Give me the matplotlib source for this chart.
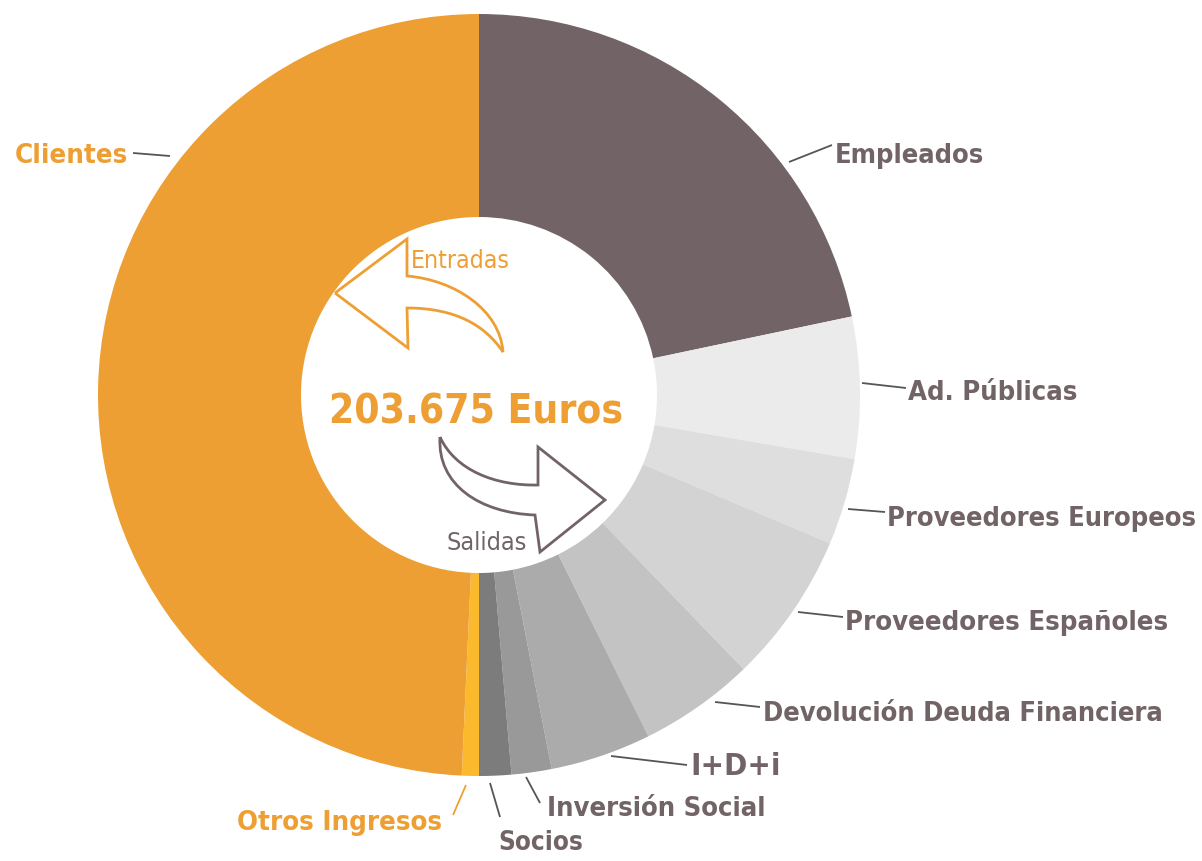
import matplotlib.pyplot as plt
from matplotlib.path import Path
from matplotlib.patches import PathPatch

# flujo de caja en euros: la mitad derecha son salidas, la izquierda entradas
salidas = ['Empleados', 'Ad. Públicas', 'Proveedores Europeos', 'Proveedores Españoles',
           'Devolución Deuda Financiera', 'I+D+i', 'Inversión Social', 'Socios']
salidas_eur = [88375, 24440, 14940, 26140, 19910, 17430, 6900, 5540]
entradas = ['Otros Ingresos', 'Clientes']
entradas_eur = [2940, 200735]
total_txt = '203.675 Euros'

GRIS = '#726466'
NARANJA = '#ee9f33'
col_salidas = [GRIS, '#ebebeb', '#dedede', '#d3d3d3', '#c3c3c3', '#ababab', '#999999', '#7c7c7c']
col_entradas = ['#fbba2e', NARANJA]

FAM = ['Liberation Sans Narrow', 'DejaVu Sans']
W, H = 1202, 861


def P(x, y):
    # pixel (origen arriba-izq) -> datos
    return (x, H - y)


fig = plt.figure(figsize=(W / 100, H / 100), dpi=100)
ax = fig.add_axes([0, 0, 1, 1])

vals = salidas_eur + entradas_eur
cols = col_salidas + col_entradas
R = 381
ax.pie(vals, colors=cols, startangle=90, counterclock=False, radius=R,
       center=P(479, 395), wedgeprops=dict(width=R - 178, edgecolor='none', linewidth=0))

ax.set_xlim(0, W)
ax.set_ylim(0, H)
ax.set_aspect('auto')
ax.axis('off')

# etiquetas: (inicio linea, fin linea, posicion texto, alineacion, ancho en px)
etiquetas = {
    'Clientes': ((170, 156), (133, 153), (128, 163), 'right', 113),
    'Empleados': ((789, 162), (832, 145), (835, 163), 'left', 150),
    'Ad. Públicas': ((862, 383), (906, 388), (908, 400), 'left', 170),
    'Proveedores Europeos': ((848, 509), (885, 512), (887, 526), 'left', 310),
    'Proveedores Españoles': ((798, 612), (843, 617), (845, 630), 'left', 323),
    'Devolución Deuda Financiera': ((715, 702), (760, 707), (763, 721), 'left', 402),
    'I+D+i': ((611, 756), (687, 765), (690, 775), 'left', 90),
    'Inversión Social': ((526, 777), (540, 803), (547, 816), 'left', 220),
    'Socios': ((490, 783), (500, 817), (498, 850), 'left', 85),
    'Otros Ingresos': ((466, 785), (453, 815), (442, 830), 'right', 205),
}

ajustar = []
for nombre, (a, b, t, ha, ancho) in etiquetas.items():
    c = NARANJA if nombre in entradas else GRIS
    lc = NARANJA if nombre == 'Otros Ingresos' else '#555555'
    pa, pb = P(*a), P(*b)
    ax.plot([pa[0], pb[0]], [pa[1], pb[1]], color=lc, lw=1.3, solid_capstyle='butt')
    txt = ax.text(*P(*t), nombre, ha=ha, va='baseline', color=c, fontsize=20,
                  fontweight='bold', fontstretch='condensed', family=FAM)
    ajustar.append((txt, ancho))

# texto central
txt = ax.text(*P(476, 423), total_txt, ha='center', va='baseline', color=NARANJA,
              fontsize=30, fontweight='bold', fontstretch='condensed', family=FAM)
ajustar.append((txt, 294))
txt = ax.text(*P(460, 268), 'Entradas', ha='center', va='baseline', color=NARANJA,
              fontsize=16, fontstretch='condensed', family=FAM)
ajustar.append((txt, 100))
txt = ax.text(*P(487, 550), 'Salidas', ha='center', va='baseline', color=GRIS,
              fontsize=16, fontstretch='condensed', family=FAM)
ajustar.append((txt, 81))

# escalar cada texto al ancho que tiene en la imagen original
fig.canvas.draw()
rend = fig.canvas.get_renderer()
for txt, ancho in ajustar:
    w = txt.get_window_extent(rend).width
    txt.set_fontsize(txt.get_fontsize() * ancho / w)

# flechas curvas
M, L, C = Path.MOVETO, Path.LINETO, Path.CURVE4
flecha_ent = [
    ((335, 293), M), ((407, 239), L), ((407, 276), L),
    ((455, 280), C), ((500, 310), C), ((503, 352), C),
    ((485, 325), C), ((455, 308), C), ((407, 308), C),
    ((408, 348), L), ((335, 293), L),
]
flecha_sal = [
    ((440, 437), M),
    ((455, 470), C), ((495, 486), C), ((538, 485), C),
    ((538, 447), L), ((605, 500), L), ((540, 552), L), ((535, 515), L),
    ((480, 513), C), ((437, 485), C), ((440, 437), C),
]
for pts, col in [(flecha_ent, NARANJA), (flecha_sal, GRIS)]:
    verts = [P(*p) for p, _ in pts]
    codes = [c for _, c in pts]
    ax.add_patch(PathPatch(Path(verts, codes), facecolor='white', edgecolor=col,
                           lw=2, joinstyle='miter'))

fig.savefig('out.png', dpi=100)
